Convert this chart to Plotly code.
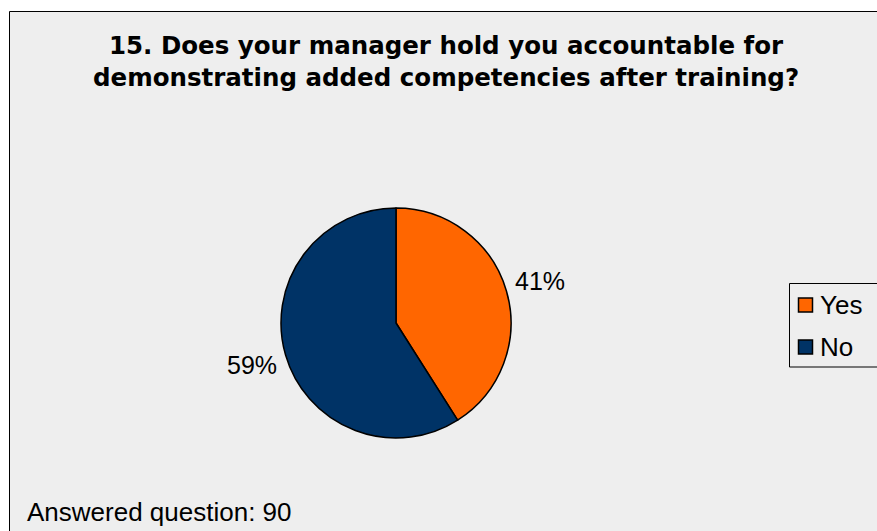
import math
import plotly.graph_objects as go

# Survey results
categories = ["Yes", "No"]
percents = [41, 59]
colors = ["#FF6600", "#003366"]
title_lines = ["15. Does your manager hold you accountable for",
               "demonstrating added competencies after training?"]
answered = 90

W, H = 877, 531
BG = "#EEEEEE"


def px(x):
    return x / W


def py(y):
    return 1 - y / H


# pie geometry (pixels)
cx, cy, r = 396, 323, 115

fig = go.Figure(go.Pie(
    labels=categories,
    values=percents,
    marker=dict(colors=colors, line=dict(color="#000000", width=1.5)),
    sort=False,
    direction="clockwise",
    rotation=0,
    textinfo="none",
    hoverinfo="label+percent",
    showlegend=False,
    domain=dict(x=[px(cx - r), px(cx + r)], y=[py(cy + r), py(cy - r)]),
))

shapes = [
    # chart frame
    dict(type="rect", xref="paper", yref="paper",
         x0=px(9.5), x1=px(W + 5), y0=py(H + 5), y1=py(11.5),
         fillcolor=BG, line=dict(color="#000000", width=1), layer="below"),
    # legend box
    dict(type="rect", xref="paper", yref="paper",
         x0=px(789.5), x1=px(877.5), y0=py(367), y1=py(283.5),
         fillcolor=BG, line=dict(color="#000000", width=1), layer="below"),
]

annotations = [
    dict(text="<br>".join(title_lines), x=px(446), y=py(29), xref="paper", yref="paper",
         xanchor="center", yanchor="top", showarrow=False,
         font=dict(family="DejaVu Sans", size=24.5, color="#000000", weight="bold")),
    dict(text=f"Answered question: {answered}", x=px(25), y=py(529), xref="paper", yref="paper",
         xanchor="left", yanchor="bottom", showarrow=False,
         font=dict(family="Liberation Sans", size=26, color="#000000")),
]

# percentage labels placed outside each slice, at its mid-angle
total = sum(percents)
start = 0.0
for v in percents:
    mid = (start + v / 2) / total * 2 * math.pi
    start += v
    lr = 150
    lx = cx + lr * math.sin(mid)
    ly = cy - lr * math.cos(mid)
    annotations.append(dict(text=f"{v}%", x=px(lx), y=py(ly), xref="paper", yref="paper",
                            xanchor="center", yanchor="middle", showarrow=False,
                            font=dict(family="Liberation Sans", size=25, color="#000000")))

# legend entries
for i, (lab, col) in enumerate(zip(categories, colors)):
    yc = 305 + i * 42
    shapes.append(dict(type="rect", xref="paper", yref="paper",
                       x0=px(798.5), x1=px(812.5), y0=py(yc + 7), y1=py(yc - 7),
                       fillcolor=col, line=dict(color="#000000", width=1.5)))
    annotations.append(dict(text=lab, x=px(818), y=py(yc), xref="paper", yref="paper",
                            xanchor="left", yanchor="middle", showarrow=False,
                            font=dict(family="Liberation Sans", size=26, color="#000000")))

fig.update_layout(
    width=W, height=H,
    margin=dict(l=0, r=0, t=0, b=0),
    paper_bgcolor="#FFFFFF",
    plot_bgcolor="#FFFFFF",
    shapes=shapes,
    annotations=annotations,
)

fig.write_html("out.html", config={"displayModeBar": False})
